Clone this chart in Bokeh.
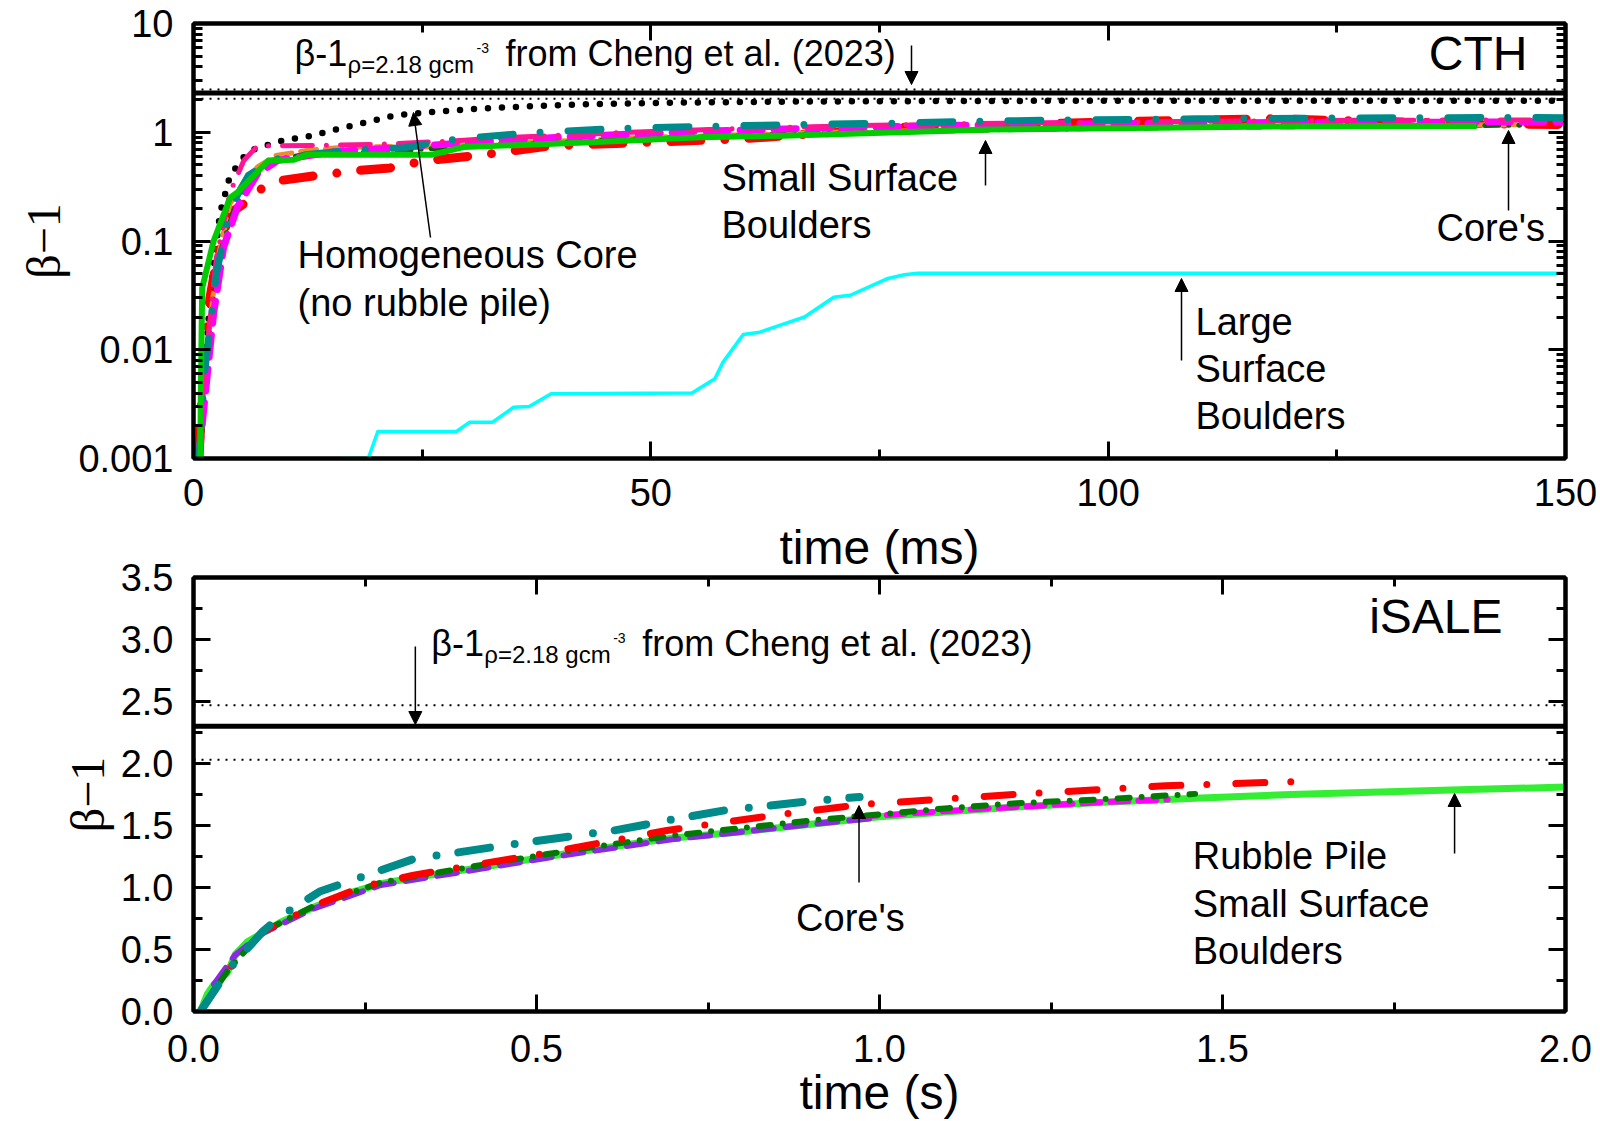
from bokeh.plotting import figure
from bokeh.layouts import column
from bokeh.models import (FixedTicker, SingleIntervalTicker, LinearAxis, LogAxis, Span, Arrow,
                          NormalHead, CustomJSTickFormatter, NumeralTickFormatter, Range1d)
from bokeh.core.properties import value
from bokeh.embed import file_html
from bokeh.resources import INLINE

# ---------------- data: CTH (top panel, time in ms) ----------------
cth_homog_t = [0.7, 1.2, 1.6, 2.0, 2.9, 4.0, 5.9, 7.3, 10.0, 13.0, 16.0, 19.0, 22.0, 26.0, 31.0,
               37.0, 44.0, 52.0, 64.0, 76.0, 88.0, 100.0, 115.0, 130.0, 150.0]
cth_homog_v = [0.001, 0.005, 0.017, 0.042, 0.18, 0.40, 0.66, 0.73, 0.85, 0.93, 1.08, 1.24, 1.43, 1.53, 1.64,
               1.74, 1.82, 1.87, 1.91, 1.93, 1.94, 1.95, 1.95, 1.95, 1.95]

cth_red_t = [0.6, 1.0, 1.8, 2.8, 4.0, 5.5, 6.4, 8.0, 9.5, 13.5, 18.0, 21.5, 25.5, 31.0, 39.0, 48.0,
             60.0, 70.0, 77.0, 88.0, 95.0, 105.0, 118.0, 130.0, 143.0, 150.0]
cth_red_v = [0.001, 0.005, 0.03, 0.088, 0.18, 0.22, 0.27, 0.32, 0.36, 0.40, 0.445, 0.47, 0.55, 0.61, 0.75, 0.80,
             0.87, 1.0, 1.11, 1.15, 1.21, 1.27, 1.33, 1.25, 1.19, 1.18]

cth_teal_t = [0.6, 1.2, 2.5, 4.0, 6.0, 8.5, 10.6, 16.8, 23.0, 29.0, 37.7, 47.3, 57.8, 66.6, 76.2, 85.4,
              96.2, 110.0, 124.4, 144.5, 150.0]
cth_teal_v = [0.001, 0.006, 0.05, 0.20, 0.40, 0.55, 0.60, 0.68, 0.72, 0.87, 1.0, 1.09, 1.14, 1.18, 1.21, 1.26,
              1.30, 1.33, 1.35, 1.37, 1.36]

cth_pink_t = [0.6, 1.2, 2.5, 4.0, 5.5, 7.0, 13.5, 21.5, 28.0, 35.0, 47.7, 60.3, 72.8, 85.4, 100.0, 115.0,
              130.0, 150.0]
cth_pink_v = [0.001, 0.006, 0.07, 0.28, 0.55, 0.75, 0.755, 0.78, 0.83, 0.90, 1.0, 1.09, 1.15, 1.20, 1.24, 1.27,
              1.29, 1.30]

cth_magenta_t = [0.58, 1.3, 2.2, 3.3, 4.8, 7.0, 9.2, 15.0, 22.0, 30.0, 40.0, 55.0, 70.0, 85.0, 100.0,
                 120.0, 140.0, 150.0]
cth_magenta_v = [0.001, 0.004, 0.0215, 0.088, 0.205, 0.415, 0.55, 0.655, 0.72, 0.80, 0.90, 1.02, 1.10, 1.16,
                 1.20, 1.23, 1.24, 1.25]

cth_orange_t = [0.5, 1.2, 2.5, 4.0, 5.5, 7.0, 9.0, 12.4, 15.7, 21.5, 25.0, 35.0, 50.0, 70.0, 90.0, 110.0,
                130.0, 145.0]
cth_orange_v = [0.001, 0.006, 0.06, 0.22, 0.35, 0.48, 0.61, 0.68, 0.72, 0.74, 0.73, 0.80, 0.90, 1.00, 1.07,
                1.12, 1.15, 1.17]

cth_dkgreen_t = [0.6, 1.3, 2.2, 3.1, 4.5, 6.5, 8.5, 12.0, 20.0, 30.0, 50.0, 70.0, 90.0, 110.0, 130.0, 145.0]
cth_dkgreen_v = [0.001, 0.006, 0.03, 0.088, 0.2, 0.42, 0.55, 0.62, 0.66, 0.74, 0.88, 0.98, 1.06, 1.11, 1.14, 1.16]

cth_green_t = [0.75, 0.8, 0.95, 2.2, 4.0, 4.8, 8.2, 11.0, 12.4, 26.0, 29.5, 43.5, 55.4, 64.5, 87.0, 118.0, 140.3]
cth_green_v = [0.001, 0.004, 0.037, 0.10, 0.25, 0.28, 0.55, 0.56, 0.62, 0.62, 0.73, 0.81, 0.90, 0.93, 1.06,
               1.13, 1.14]

cth_cyan_t = [16.2, 19.1, 20.15, 28.75, 30.2, 32.7, 35.0, 36.7, 39.1, 54.5, 57.0, 57.9, 60.1, 61.9, 64.4,
              66.8, 70.0, 71.8, 75.8, 77.7, 79.2, 150.0]
cth_cyan_v = [0.001, 0.001, 0.00177, 0.00177, 0.00216, 0.00216, 0.00296, 0.0030, 0.00394, 0.0040, 0.0054,
              0.0077, 0.0138, 0.0145, 0.0171, 0.020, 0.0304, 0.0317, 0.0449, 0.0489, 0.0506, 0.0506]

# ---------------- data: iSALE (bottom panel, time in s) ----------------
isale_green_t = [0.0102, 0.02, 0.03, 0.049, 0.061, 0.078, 0.103, 0.127, 0.175, 0.224, 0.273, 0.321, 0.418,
                 0.516, 0.613, 0.70, 0.80, 0.90, 1.0, 1.1, 1.2, 1.32, 1.46, 1.6, 1.73, 1.86, 2.0]
isale_green_v = [0.0, 0.14, 0.22, 0.31, 0.46, 0.56, 0.64, 0.72, 0.84, 0.95, 1.03, 1.08, 1.16,
                 1.25, 1.33, 1.40, 1.45, 1.51, 1.57, 1.61, 1.65, 1.685, 1.72, 1.75, 1.77, 1.79, 1.81]

isale_purple_t = [0.03, 0.06, 0.1, 0.175, 0.273, 0.418, 0.516, 0.613, 0.70, 0.80, 0.90, 0.99]
isale_purple_v = [0.22, 0.45, 0.63, 0.83, 1.02, 1.15, 1.24, 1.32, 1.39, 1.45, 1.51, 1.56]

isale_magenta_t = [0.97, 1.05, 1.15, 1.25, 1.33, 1.42]
isale_magenta_v = [1.57, 1.60, 1.635, 1.665, 1.69, 1.71]

isale_dkgreen_t = [0.01, 0.05, 0.1, 0.175, 0.273, 0.418, 0.516, 0.613, 0.70, 0.80, 0.90, 1.0, 1.1, 1.2,
                   1.32, 1.46]
isale_dkgreen_v = [0.0, 0.33, 0.64, 0.85, 1.04, 1.18, 1.27, 1.35, 1.42, 1.48, 1.54, 1.59, 1.64, 1.68,
                   1.71, 1.755]

isale_red_t = [0.01, 0.05, 0.1, 0.175, 0.248, 0.321, 0.418, 0.516, 0.613, 0.69, 0.843, 0.975, 1.196,
               1.417, 1.611]
isale_red_v = [0.0, 0.33, 0.64, 0.85, 1.01, 1.10, 1.19, 1.28, 1.38, 1.46, 1.58, 1.67, 1.75, 1.82, 1.855]

isale_teal_t = [0.01, 0.05, 0.1, 0.127, 0.185, 0.321, 0.467, 0.613, 0.70, 0.772, 0.905, 0.971]
isale_teal_v = [0.0, 0.33, 0.64, 0.77, 0.97, 1.23, 1.35, 1.46, 1.55, 1.62, 1.70, 1.73]

# Cheng et al. (2023) beta-1 for rho = 2.18 g/cm3: lower bound, nominal, upper bound
cheng_levels = [2.03, 2.30, 2.47]

# tick definitions
top_y_major = [0.001, 0.01, 0.1, 1, 10]
top_y_minor = [m * d for d in [0.001, 0.01, 0.1, 1] for m in range(2, 10)]

FONT = "Liberation Sans"
SERIF = "Liberation Serif"

# ---------------- layout geometry (pixels) ----------------
W = 1600
TOP_H = 516
BOT_H = 605
FL, FR_T, FR_B = 193, 1565, 1566
T_TOP, T_BOT = 23, 458
B_TOP, B_BOT = 577, 1011


def top_xy(px, py):
    return (px - FL) * 150.0 / (FR_T - FL), 10 ** (1 - (py - T_TOP) * 4.0 / (T_BOT - T_TOP))


def bot_xy(px, py):
    return (px - FL) * 2.0 / (FR_B - FL), (B_BOT - py) * 3.5 / (B_BOT - B_TOP)


def style_axis(ax):
    ax.axis_line_width = 4
    ax.axis_line_color = "black"
    ax.major_tick_in = 17
    ax.major_tick_out = 0
    ax.minor_tick_in = 9
    ax.minor_tick_out = 0
    ax.major_tick_line_width = 3
    ax.minor_tick_line_width = 3
    ax.major_tick_line_color = "black"
    ax.minor_tick_line_color = "black"
    ax.major_label_text_font = FONT
    ax.major_label_text_font_size = "38px"
    ax.major_label_text_color = "black"
    ax.axis_label_text_font = FONT
    ax.axis_label_text_font_size = "48px"
    ax.axis_label_text_font_style = "normal"
    ax.axis_label_text_color = "black"


def mirror(p, side, ticker, cls=LinearAxis, label=None, label_standoff=0):
    ax = cls(ticker=ticker, formatter=CustomJSTickFormatter(code="return ''"))
    style_axis(ax)
    ax.major_label_text_font_size = "0px"
    ax.major_label_standoff = 0
    if label:
        ax.axis_label = label
        ax.axis_label_standoff = label_standoff
    p.add_layout(ax, side)
    return ax


def base_fig(h, xr, yr, top_b, bot_b, right_b, log=False):
    kw = dict(width=W, height=h, x_range=Range1d(*xr), y_range=Range1d(*yr),
              output_backend="svg", toolbar_location=None,
              min_border_left=FL, min_border_right=right_b, min_border_top=top_b,
              min_border_bottom=bot_b)
    if log:
        kw["y_axis_type"] = "log"
    p = figure(**kw)
    p.xgrid.visible = False
    p.ygrid.visible = False
    p.outline_line_color = "black"
    p.outline_line_width = 4
    p.background_fill_color = "white"
    p.border_fill_color = "white"
    return p


def add_text(p, pts, texts, size, conv, align="left", font=FONT):
    # pts are (x, vertical centre) in page pixels
    xs, ys = zip(*[conv(a, b) for a, b in pts])
    p.text(x=list(xs), y=list(ys), text=texts, text_font=value(font), text_font_size=value(size),
           text_align=align, text_baseline="middle", text_color="black")


def add_arrow(p, conv, tail, tip):
    x0, y0 = conv(*tail)
    x1, y1 = conv(*tip)
    p.add_layout(Arrow(end=NormalHead(size=13, fill_color="black", line_color="black", line_width=1),
                       x_start=x0, y_start=y0, x_end=x1, y_end=y1,
                       line_color="black", line_width=1.5))


def cheng_label(p, conv, bx, cy):
    add_text(p, [(bx, cy)], ["β-1"], "36px", conv)
    add_text(p, [(bx + 53, cy + 11)], ["ρ=2.18 gcm"], "24px", conv)
    add_text(p, [(bx + 182, cy - 6)], ["-3"], "14px", conv)
    add_text(p, [(bx + 211, cy)], ["from Cheng et al. (2023)"], "36px", conv)


def ref_lines(p):
    p.add_layout(Span(location=cheng_levels[1], dimension="width", line_color="black", line_width=5))
    for lv in (cheng_levels[0], cheng_levels[2]):
        p.add_layout(Span(location=lv, dimension="width", line_color="black", line_width=2,
                          line_dash="2 6"))


# ======================= TOP: CTH =======================
top = base_fig(TOP_H, (0, 150), (0.001, 10), T_TOP, TOP_H - T_BOT, W - FR_T, log=True)

tx_ticker = SingleIntervalTicker(interval=50, num_minor_ticks=2)
ty_ticker = FixedTicker(ticks=top_y_major, minor_ticks=top_y_minor)

xa = top.xaxis[0]
xa.ticker = tx_ticker
style_axis(xa)
xa.major_label_standoff = 20

ya = top.yaxis[0]
ya.ticker = ty_ticker
ya.formatter = CustomJSTickFormatter(code="return String(tick)")
style_axis(ya)
ya.axis_label = "β−1"
ya.axis_label_text_font = SERIF
ya.axis_label_text_font_size = "48px"
ya.major_label_standoff = 20
ya.axis_label_standoff = 5

mirror(top, "above", tx_ticker)
mirror(top, "right", ty_ticker, LogAxis)

ref_lines(top)

lc = dict(line_cap="round", line_join="round")
top.line(cth_cyan_t, cth_cyan_v, line_color="#00FFFF", line_width=3.5, line_join="round")
top.line(cth_homog_t, cth_homog_v, line_color="black", line_width=6.5, line_dash="0 14", **lc)
top.line(cth_red_t, cth_red_v, line_color="#FF0000", line_width=9, line_dash="30 24 0 24", **lc)
top.line(cth_orange_t, cth_orange_v, line_color="#F08A30", line_width=5, line_dash="16 9", **lc)
top.line(cth_dkgreen_t, cth_dkgreen_v, line_color="#006400", line_width=5, line_dash="14 10 0 10", **lc)
top.line(cth_magenta_t, cth_magenta_v, line_color="#FF00FF", line_width=7, line_dash="22 12", **lc)
top.line(cth_pink_t, cth_pink_v, line_color="#FF1493", line_width=5, line_dash="30 14 0 14", **lc)
top.line(cth_teal_t, cth_teal_v, line_color="#008B8B", line_width=7, line_dash="33 27 0 28", **lc)
top.line(cth_green_t, cth_green_v, line_color="#00CC00", line_width=6, line_join="round")

cheng_label(top, top_xy, 294, 53)
add_text(top, [(1527, 53)], ["CTH"], "48px", top_xy, align="right")
add_text(top, [(297, 254), (297, 302)], ["Homogeneous Core", "(no rubble pile)"], "38px", top_xy)
add_text(top, [(721, 177), (721, 224)], ["Small Surface", "Boulders"], "38px", top_xy)
add_text(top, [(1436, 227)], ["Core's"], "38px", top_xy)
add_text(top, [(1195, 321), (1195, 368), (1195, 415)], ["Large", "Surface", "Boulders"], "38px", top_xy)

add_arrow(top, top_xy, (911, 45), (911, 84))
add_arrow(top, top_xy, (430, 237), (413, 112))
add_arrow(top, top_xy, (985, 185), (985, 140))
add_arrow(top, top_xy, (1508, 210), (1508, 130))
add_arrow(top, top_xy, (1181, 360), (1181, 278))

# ======================= BOTTOM: iSALE =======================
bt = B_TOP - TOP_H
bot = base_fig(BOT_H, (0, 2), (0, 3.5), bt, TOP_H + BOT_H - B_BOT, W - FR_B)

bx_ticker = SingleIntervalTicker(interval=0.5, num_minor_ticks=2)
by_ticker = SingleIntervalTicker(interval=0.5, num_minor_ticks=2)

bxa = bot.xaxis[0]
bxa.ticker = bx_ticker
bxa.formatter = NumeralTickFormatter(format="0.0")
style_axis(bxa)
bxa.axis_label = "time (s)"
bxa.major_label_standoff = 23
bxa.axis_label_standoff = 1

bya = bot.yaxis[0]
bya.ticker = by_ticker
bya.formatter = NumeralTickFormatter(format="0.0")
style_axis(bya)
bya.axis_label = "β−1"
bya.axis_label_text_font = SERIF
bya.axis_label_text_font_size = "48px"
bya.major_label_standoff = 20
bya.axis_label_standoff = 4

# the upper panel's x-axis title sits in the band between the two panels
mirror(bot, "above", bx_ticker, label="time (ms)", label_standoff=4)
mirror(bot, "right", by_ticker)

ref_lines(bot)

bot.line(isale_green_t, isale_green_v, line_color="#33EE33", line_width=7, line_join="round")
bot.line(isale_purple_t, isale_purple_v, line_color="#8A2BE2", line_width=6, line_dash="20 12", **lc)
bot.line(isale_magenta_t, isale_magenta_v, line_color="#FF00FF", line_width=6, line_dash="18 10", **lc)
bot.line(isale_dkgreen_t, isale_dkgreen_v, line_color="#007A00", line_width=6, line_dash="12 12 0 12", **lc)
bot.line(isale_red_t, isale_red_v, line_color="#FF0000", line_width=7, line_dash="29 26 0 29", **lc)
bot.line(isale_teal_t, isale_teal_v, line_color="#008B8B", line_width=8, line_dash="32 25 0 22", **lc)

cheng_label(bot, bot_xy, 431, 643)
add_text(bot, [(1503, 616)], ["iSALE"], "48px", bot_xy, align="right")
add_text(bot, [(796, 917)], ["Core's"], "38px", bot_xy)
add_text(bot, [(1193, 855), (1193, 903), (1193, 950)], ["Rubble Pile", "Small Surface", "Boulders"],
         "38px", bot_xy)

add_arrow(bot, bot_xy, (415, 646), (415, 724))
add_arrow(bot, bot_xy, (859, 882), (859, 805))
add_arrow(bot, bot_xy, (1455, 853), (1455, 793))

layout = column(top, bot)
open("out.html", "w").write(file_html(layout, INLINE))
